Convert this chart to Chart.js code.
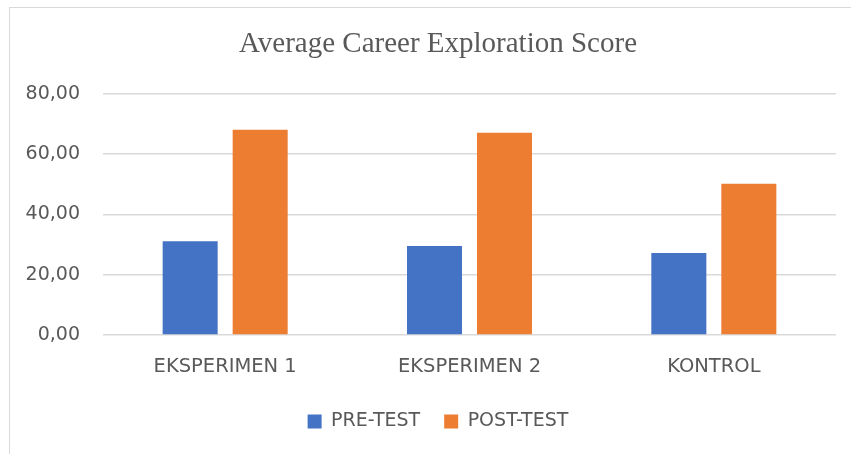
<!DOCTYPE html>
<html lang="en">
<head>
    <meta charset="UTF-8">
    <title>Average Career Exploration Score</title>
    <script src="https://cdn.jsdelivr.net/npm/chart.js"></script>
    <style>
        html, body { margin: 0; padding: 0; background: #fff; }
        body { width: 851px; height: 454px; position: relative; overflow: hidden; }
        .frame {
            position: absolute; left: 9px; top: 7px;
            width: 841px; height: 446px;
            border-left: 1px solid #d9d9d9; border-top: 1px solid #d9d9d9;
        }
        canvas { display: block; }
    </style>
</head>
<body>
    <div class="frame">
        <canvas id="barChart" width="841" height="446"></canvas>
    </div>
    <script>
        // chart data
        var groups = ["EKSPERIMEN 1", "EKSPERIMEN 2", "KONTROL"];
        var preTest = [31.1, 29.5, 27.2];
        var postTest = [68.1, 67.1, 50.2];
        var yMax = 80;
        var yStep = 20;

        var textColor = "#595959";
        var gridColor = "#d9d9d9";
        var sansFont = "'DejaVu Sans', sans-serif";

        var barChart = new Chart(document.getElementById("barChart"), {
            type: "bar",
            data: {
                labels: groups,
                datasets: [{
                    label: "PRE-TEST",
                    data: preTest,
                    backgroundColor: "#4472C4"
                }, {
                    label: "POST-TEST",
                    data: postTest,
                    backgroundColor: "#ED7D31"
                }]
            },
            options: {
                responsive: false,
                animation: false,
                categoryPercentage: 0.573,
                barPercentage: 0.786,
                // left padding keeps the title and legend centred like the original
                layout: { padding: { left: 30, right: 15, top: 0, bottom: 13 } },
                plugins: {
                    title: {
                        display: true,
                        text: "Average Career Exploration Score",
                        color: textColor,
                        font: { family: "'Liberation Serif', 'Times New Roman', serif", size: 29, weight: "normal" },
                        padding: { top: 19, bottom: 32 }
                    },
                    legend: {
                        position: "bottom",
                        labels: {
                            color: textColor,
                            boxWidth: 14,
                            boxHeight: 14,
                            padding: 24,
                            font: { family: sansFont, size: 19 }
                        }
                    },
                    tooltip: { enabled: false }
                },
                scales: {
                    x: {
                        grid: { display: false, drawTicks: false },
                        border: { display: false },
                        ticks: {
                            color: textColor,
                            padding: 20,
                            font: { family: sansFont, size: 19.5 }
                        },
                        afterFit: function (scale) { scale.height = 53; }
                    },
                    y: {
                        min: 0,
                        max: yMax,
                        grid: { color: gridColor, lineWidth: 1.5, drawTicks: false },
                        border: { display: false },
                        ticks: {
                            stepSize: yStep,
                            color: textColor,
                            padding: 23,
                            font: { family: sansFont, size: 19 },
                            callback: function (value) {
                                return Number(value).toFixed(2).replace(".", ",");
                            }
                        },
                        afterFit: function (scale) {
                            scale.width = 63;
                            // labels reach past the narrow axis box, so don't clip them
                            scale._computeLabelArea = function () { return null; };
                        }
                    }
                }
            }
        });
    </script>
</body>
</html>
